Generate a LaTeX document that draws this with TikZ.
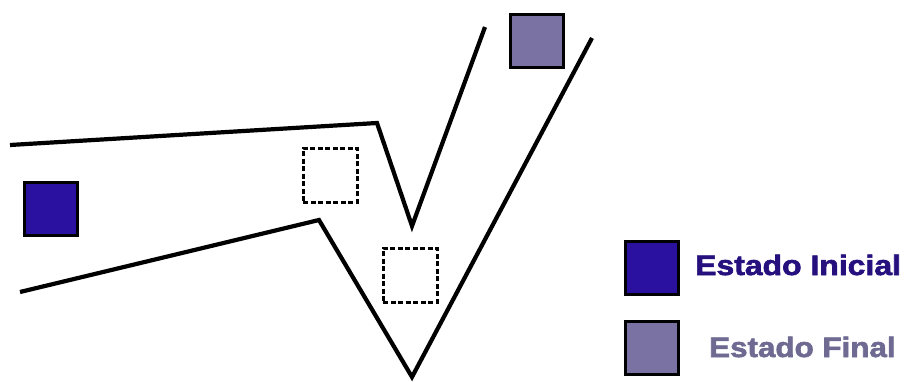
\documentclass[tikz,border=0pt]{standalone}
\usepackage{fontspec}
\setmainfont{Liberation Sans}
\newfontfamily\legfont{Liberation Sans}[BoldFeatures={FakeBold=2}]
\definecolor{inicial}{HTML}{2B11A0}
\definecolor{inicialtxt}{HTML}{26107E}
\definecolor{final}{HTML}{7A72A2}
\definecolor{finaltxt}{HTML}{6E6A92}
\tikzset{
  wall/.style={line width=4.2pt, line join=miter},
  statebox/.style={draw=black, line width=3.5pt, minimum width=53pt, minimum height=53pt, inner sep=0pt},
  ghost/.style={draw=black, line width=3pt, dash pattern=on 5pt off 2.5pt, minimum width=54pt, minimum height=54pt, inner sep=0pt},
  legtext/.style={anchor=west, font=\legfont\fontsize{28}{30}\selectfont\bfseries, inner sep=0pt}
}
\begin{document}
\begin{tikzpicture}[x=1pt,y=-1pt]
\useasboundingbox (0,0) rectangle (906,381);
% walls
\draw[wall] (10,145) -- (377,123) -- (412,226) -- (485,27);
\draw[wall] (20,292) -- (319,220) -- (412,377) -- (592,38);
% states
\node[statebox, fill=inicial] (ini) at (51,209) {};
\node[statebox, fill=final] (fin) at (537,41) {};
\node[ghost] (g1) at (330,175) {};
\node[ghost] (g2) at (410,275) {};
% legend
\node[statebox, fill=inicial] (li) at (652,268) {};
\node[statebox, fill=final] (lf) at (652,348) {};
\node[legtext, text=inicialtxt] (ti) at (695,265) {\scalebox{1.14}[1]{Estado Inicial}};
\node[legtext, text=finaltxt] (tf) at (709,347) {\scalebox{1.12}[1]{Estado Final}};
\end{tikzpicture}
\end{document}
